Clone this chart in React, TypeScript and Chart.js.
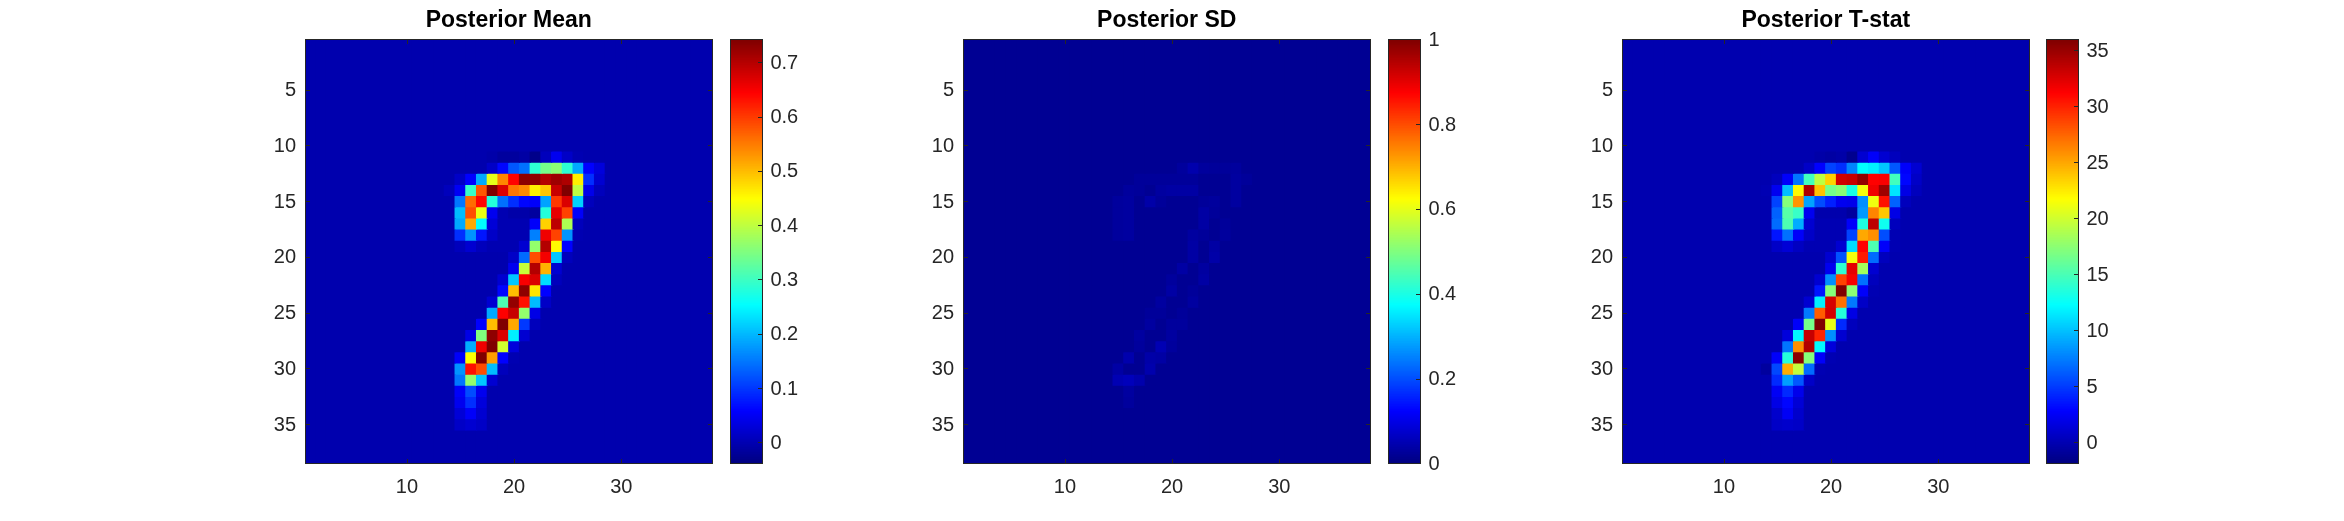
import React, { useEffect, useRef } from "react";
import Chart from "chart.js/auto";

const GRID_SIZE = 38;
const axisTicks = [10, 20, 30];
const rowTicks = [5, 10, 15, 20, 25, 30, 35];

const titles = ["Posterior Mean", "Posterior SD", "Posterior T-stat"];
const colorLimits = [
  [-0.0387, 0.7424],
  [0, 1],
  [-1.875, 35.98],
];
const barTicks = [
  [0, 0.1, 0.2, 0.3, 0.4, 0.5, 0.6, 0.7],
  [0, 0.2, 0.4, 0.6, 0.8, 1],
  [0, 5, 10, 15, 20, 25, 30, 35],
];
const backgrounds = [-0.003, 0.019, -0.13];

type Row = [number, number, number[]];

// [row, first column, cell values]; every other cell holds the panel's background value
const meanRows: Row[] = [
  [11, 18, [-0.007, -0.015, -0.015, -0.011, -0.031, 0.008, 0.047, 0.016, 0]],
  [12, 18, [0.016, 0.063, 0.125, 0.145, 0.289, 0.344, 0.36, 0.289, 0.188, 0.059, 0.032]],
  [13, 15, [0.016, 0.059, 0.188, 0.43, 0.543, 0.645, 0.731, 0.731, 0.703, 0.719, 0.707, 0.461, 0.094, 0.024]],
  [14, 14, [0.008, 0.051, 0.297, 0.578, 0.742, 0.672, 0.555, 0.539, 0.461, 0.492, 0.688, 0.742, 0.399, 0.043, 0.008]],
  [15, 15, [0.149, 0.563, 0.641, 0.282, 0.145, 0.094, 0.063, 0.055, 0.184, 0.602, 0.672, 0.219, 0.008]],
  [16, 15, [0.203, 0.586, 0.434, 0.047, 0, -0.007, -0.007, -0.015, 0.282, 0.664, 0.594, 0.055]],
  [17, 15, [0.188, 0.516, 0.254, 0.028, 0, 0, 0, 0.055, 0.485, 0.695, 0.387, 0.008]],
  [18, 15, [0.094, 0.172, 0.075, 0.016, 0, 0, 0, 0.157, 0.656, 0.594, 0.172, 0]],
  [19, 15, [0.008, 0.024, 0.008, 0, 0, 0, 0.024, 0.367, 0.703, 0.453, 0.059]],
  [20, 20, [0.016, 0.141, 0.586, 0.653, 0.211, 0.008]],
  [21, 20, [0.047, 0.406, 0.703, 0.508, 0.024]],
  [22, 19, [0.024, 0.211, 0.649, 0.672, 0.227, 0.008]],
  [23, 19, [0.063, 0.5, 0.731, 0.469, 0.059]],
  [24, 18, [0.024, 0.313, 0.727, 0.633, 0.203, 0.016]],
  [25, 18, [0.188, 0.645, 0.688, 0.367, 0.04]],
  [26, 17, [0.059, 0.5, 0.742, 0.516, 0.102, 0.008]],
  [27, 16, [0.04, 0.352, 0.731, 0.672, 0.242, 0.024]],
  [28, 16, [0.192, 0.656, 0.742, 0.414, 0.032]],
  [29, 15, [0.055, 0.449, 0.742, 0.524, 0.059, 0]],
  [30, 15, [0.172, 0.633, 0.586, 0.203, 0.008]],
  [31, 15, [0.149, 0.367, 0.211, 0.024]],
  [32, 15, [0.055, 0.117, 0.047]],
  [33, 15, [0.047, 0.094, 0.032]],
  [34, 15, [0.028, 0.055, 0.024]],
  [35, 15, [0.016, 0.024, 0.016]],
];

const sdRows: Row[] = [
  [12, 21, [0.029, 0.045, 0.029, 0.026, 0.026, 0.029]],
  [13, 17, [0.026, 0.026, 0.026, 0.026, 0.026, 0.026, 0.019, 0.019, 0.019, 0.032, 0.026]],
  [14, 16, [0.029, 0.026, 0.019, 0.032, 0.036, 0.036, 0.036, 0.019, 0.019, 0.019, 0.032]],
  [15, 15, [0.029, 0.032, 0.019, 0.04, 0.026, 0.019, 0.019, 0.019, 0.026, 0.029, 0.019, 0.032]],
  [16, 15, [0.029, 0.032, 0.019, 0.019, 0.019, 0.019, 0.019, 0.019, 0.036, 0.026]],
  [17, 15, [0.029, 0.032, 0.019, 0.019, 0.019, 0.019, 0.019, 0.019, 0.036, 0.019, 0.026]],
  [18, 15, [0.029, 0.032, 0.019, 0.019, 0.019, 0.019, 0.019, 0.032, 0.026, 0.019, 0.029]],
  [19, 22, [0.036, 0.019, 0.036]],
  [20, 22, [0.036, 0.019, 0.04]],
  [21, 21, [0.036, 0.019, 0.032]],
  [22, 20, [0.029, 0.019, 0.019, 0.036]],
  [23, 20, [0.036, 0.019, 0.026]],
  [24, 19, [0.032, 0.019, 0.019, 0.032]],
  [25, 18, [0.026, 0.026, 0.019, 0.026]],
  [26, 18, [0.032, 0.019, 0.029, 0.029]],
  [27, 17, [0.032, 0.019, 0.019, 0.032]],
  [28, 17, [0.029, 0.019, 0.05, 0.029]],
  [29, 16, [0.045, 0.019, 0.04, 0.036]],
  [30, 15, [0.036, 0.019, 0.019, 0.045]],
  [31, 15, [0.05, 0.058, 0.045]],
  [32, 16, [0.032]],
  [33, 16, [0.029]],
];

const tstatRows: Row[] = [
  [11, 19, [-0.36, -0.55, -0.36, -1.3, 1.15, 2.67, 1.15, 0.4]],
  [12, 18, [0.78, 2.86, 5.32, 4.56, 7.78, 12.32, 11.75, 10.24, 6.07, 2.67, 1.15]],
  [13, 15, [0.4, 2.67, 7.21, 14.78, 19.32, 23.49, 32.95, 33.33, 35.22, 31.25, 31.44, 14.78, 3.05, 0.78]],
  [14, 14, [0.02, 2.29, 9.86, 21.97, 34.28, 24.06, 16.67, 17.43, 13.27, 21.4, 31.82, 34.85, 11.37, 1.91, 0.4]],
  [15, 15, [5.32, 17.24, 25.76, 8.91, 5.7, 3.99, 2.29, 2.1, 8.16, 21.22, 30.68, 6.45, 0.4]],
  [16, 15, [6.45, 15.54, 14.4, 2.29, -0.17, -0.17, -0.17, -0.74, 8.53, 26.33, 23.87, 1.91]],
  [17, 15, [6.83, 15.16, 9.29, 1.15, 0.02, 0.02, 0.02, 2.67, 13.46, 33.71, 12.89, 0.4]],
  [18, 15, [3.61, 7.02, 2.67, 0.78, 0.02, 0.02, 0.02, 5.32, 25, 25.95, 5.7, 0.02]],
  [19, 15, [0.78, 1.34, 0.59, 0.02, 0.02, 0.02, 1.15, 11.0, 31.25, 15.16, 2.67, 0.02]],
  [20, 20, [1.15, 5.89, 21.4, 30.3, 6.83, 0.4]],
  [21, 20, [2.29, 14.02, 32.2, 18.38, 1.15]],
  [22, 19, [1.15, 8.16, 28.79, 31.63, 7.02, 0.4]],
  [23, 19, [3.61, 17.24, 35.98, 17.43, 2.67, 0.02]],
  [24, 18, [1.15, 11.75, 32.76, 27.08, 7.4, 0.78]],
  [25, 18, [7.4, 27.84, 32.95, 13.65, 1.91]],
  [26, 17, [2.67, 16.67, 35.98, 20.84, 4.37, 0.4]],
  [27, 16, [1.53, 12.13, 33.33, 29.92, 8.16, 1.15]],
  [28, 16, [7.21, 25.95, 34.09, 12.13, 1.53]],
  [29, 15, [2.67, 13.65, 35.6, 17.24, 2.67, 0.02]],
  [30, 14, [-0.74, 5.51, 24.81, 19.51, 6.83, 0.02]],
  [31, 15, [4.37, 8.72, 6.07, 0.78]],
  [32, 15, [2.48, 4.37, 2.1]],
  [33, 15, [1.91, 3.05, 1.34]],
  [34, 15, [0.96, 2.48, 0.96]],
  [35, 15, [0.78, 0.96, 0.78]],
];

const panelRows = [meanRows, sdRows, tstatRows];

// layout of the figure, in page pixels
const AXES_LEFT = [305, 963, 1622];
const AXES_WIDTH = 407.5;
const BAR_LEFT = [730.4, 1388.3, 2046.3];
const BAR_WIDTH = 32.4;
const TOP = 39.3;
const BOTTOM = 463.3;
const PAGE_H = 521;
const MARGIN_LEFT = 50;
const INK = "#262626";
const FONT = "'Liberation Sans', Arial, sans-serif";
const COLOR_LEVELS = 256;
const LABEL_NUDGE = 1;

function jet(t: number): string {
  const x = Math.max(0, Math.min(1, t));
  const ch = (c: number) => Math.round(255 * Math.max(0, Math.min(1, 1.5 - Math.abs(4 * x - c))));
  return `rgb(${ch(3)},${ch(2)},${ch(1)})`;
}

function buildGrid(rows: Row[], bg: number): number[][] {
  const g: number[][] = [];
  for (let r = 0; r < GRID_SIZE; r++) g.push(new Array(GRID_SIZE).fill(bg));
  rows.forEach(([row, col, vals]) => {
    vals.forEach((v, i) => {
      g[row - 1][col - 1 + i] = v;
    });
  });
  return g;
}

const framePlugin = {
  id: "frame",
  beforeDraw(chart: any) {
    if (chart.$nudged) return;
    chart.$nudged = true;
    chart.scales.y.getLabelItems().forEach((it: any) => {
      it.options.translation[1] += LABEL_NUDGE;
    });
  },
  afterDraw(chart: any) {
    const { ctx, chartArea: a } = chart;
    const mode = chart.options.plugins.frame.mode;
    const l = Math.floor(a.left) + 0.5;
    const r = Math.floor(a.right) + 0.5;
    const t = Math.floor(a.top) + 0.5;
    const b = Math.floor(a.bottom) + 0.5;
    ctx.save();
    ctx.strokeStyle = INK;
    ctx.lineWidth = 1;
    ctx.strokeRect(l, t, r - l, b - t);
    ctx.beginPath();
    const len = 4.5;
    if (mode === "axes") {
      chart.scales.x.ticks.forEach((tk: any) => {
        const p = Math.round(chart.scales.x.getPixelForValue(tk.value)) + 0.5;
        ctx.moveTo(p, b);
        ctx.lineTo(p, b - len);
        ctx.moveTo(p, t);
        ctx.lineTo(p, t + len);
      });
      chart.scales.y.ticks.forEach((tk: any) => {
        const p = Math.round(chart.scales.y.getPixelForValue(tk.value)) + 0.5;
        ctx.moveTo(l, p);
        ctx.lineTo(l + len, p);
        ctx.moveTo(r, p);
        ctx.lineTo(r - len, p);
      });
    } else {
      chart.scales.y.ticks.forEach((tk: any) => {
        const p = Math.round(chart.scales.y.getPixelForValue(tk.value)) + 0.5;
        ctx.moveTo(r, p);
        ctx.lineTo(r - len, p);
      });
    }
    ctx.stroke();
    ctx.restore();
  },
};

const tickStyle = { color: INK, font: { family: FONT, size: 20 }, maxRotation: 0, autoSkip: false };
const setTicks = (vals: number[]) => (s: any) => {
  s.ticks = vals.map((value) => ({ value }));
};

function heatmapConfig(i: number, height: number, width: number): any {
  const grid = buildGrid(panelRows[i], backgrounds[i]);
  const [lo, hi] = colorLimits[i];
  const datasets = grid.map((vals, r) => ({
    data: vals.map((v, c) => ({ x: c + 1, y: [r + 0.5, r + 1.5], v })),
    backgroundColor: (ctx: any) => jet((ctx.raw.v - lo) / (hi - lo)),
    borderWidth: 0,
    borderSkipped: false,
    inflateAmount: 0.6,
    barPercentage: 1,
    categoryPercentage: 1,
    grouped: false,
  }));
  return {
    type: "bar",
    data: { datasets },
    plugins: [framePlugin],
    options: {
      animation: false,
      responsive: false,
      devicePixelRatio: 1,
      events: [],
      layout: { padding: { left: 0, right: width - MARGIN_LEFT - AXES_WIDTH, top: 0, bottom: 0 } },
      plugins: {
        frame: { mode: "axes" },
        legend: { display: false },
        tooltip: { enabled: false },
        title: {
          display: true,
          text: titles[i],
          color: "#000000",
          fullSize: false,
          font: { family: FONT, size: 23, weight: "bold", lineHeight: 1.2 },
          padding: { top: 7.2, bottom: TOP - 7.2 - 27.6 },
        },
      },
      scales: {
        x: {
          type: "linear",
          offset: false,
          min: 0.5,
          max: GRID_SIZE + 0.5,
          afterBuildTicks: setTicks(axisTicks),
          afterFit: (s: any) => {
            s.height = height - BOTTOM;
          },
          grid: { display: false, drawTicks: false },
          border: { display: false },
          ticks: { ...tickStyle, padding: 12, callback: (v: number) => String(v) },
        },
        y: {
          type: "linear",
          reverse: true,
          min: 0.5,
          max: GRID_SIZE + 0.5,
          afterBuildTicks: setTicks(rowTicks),
          afterFit: (s: any) => {
            s.width = MARGIN_LEFT;
          },
          grid: { display: false, drawTicks: false },
          border: { display: false },
          ticks: { ...tickStyle, padding: 9, callback: (v: number) => String(v) },
        },
      },
    },
  };
}

function colorbarConfig(i: number, height: number, width: number): any {
  const [lo, hi] = colorLimits[i];
  const step = (hi - lo) / COLOR_LEVELS;
  const levels = Array.from({ length: COLOR_LEVELS }, (_, k) => lo + (k + 0.5) * step);
  return {
    type: "bar",
    data: {
      datasets: [
        {
          data: levels.map((y) => ({ y, x: [0, 1] })),
          backgroundColor: levels.map((y) => jet((y - lo) / (hi - lo))),
          borderWidth: 0,
          borderSkipped: false,
          inflateAmount: 0.6,
          barPercentage: 1,
          categoryPercentage: 1,
        },
      ],
    },
    plugins: [framePlugin],
    options: {
      indexAxis: "y",
      animation: false,
      responsive: false,
      devicePixelRatio: 1,
      events: [],
      layout: { padding: { left: 2, right: 0, top: TOP, bottom: height - BOTTOM } },
      plugins: { frame: { mode: "bar" }, legend: { display: false }, tooltip: { enabled: false } },
      scales: {
        x: { type: "linear", display: false, min: 0, max: 1 },
        y: {
          type: "linear",
          position: "right",
          offset: false,
          min: lo,
          max: hi,
          afterBuildTicks: setTicks(barTicks[i]),
          afterFit: (s: any) => {
            s.width = width - 2 - BAR_WIDTH;
          },
          grid: { display: false, drawTicks: false },
          border: { display: false },
          ticks: { ...tickStyle, padding: 8, callback: (v: number) => String(v) },
        },
      },
    },
  };
}

export default function App() {
  const host = useRef<HTMLDivElement>(null);

  useEffect(() => {
    const charts: Chart[] = [];
    const el = host.current!;
    const add = (left: number, width: number, config: any) => {
      const c = document.createElement("canvas");
      c.width = width;
      c.height = PAGE_H;
      c.style.cssText = `position:absolute;left:${left}px;top:0;width:${width}px;height:${PAGE_H}px;display:block`;
      el.appendChild(c);
      charts.push(new Chart(c, config));
    };
    titles.forEach((_, i) => {
      const hw = 465;
      add(AXES_LEFT[i] - MARGIN_LEFT, hw, heatmapConfig(i, PAGE_H, hw));
      const bl = Math.floor(BAR_LEFT[i]);
      add(bl - 2, 90, colorbarConfig(i, PAGE_H, 90));
    });
    return () => {
      charts.forEach((c) => c.destroy());
      el.innerHTML = "";
    };
  }, []);

  return (
    <div
      ref={host}
      style={{ position: "absolute", left: 0, top: 0, width: 2344, height: PAGE_H, overflow: "hidden", background: "#fff" }}
    />
  );
}
